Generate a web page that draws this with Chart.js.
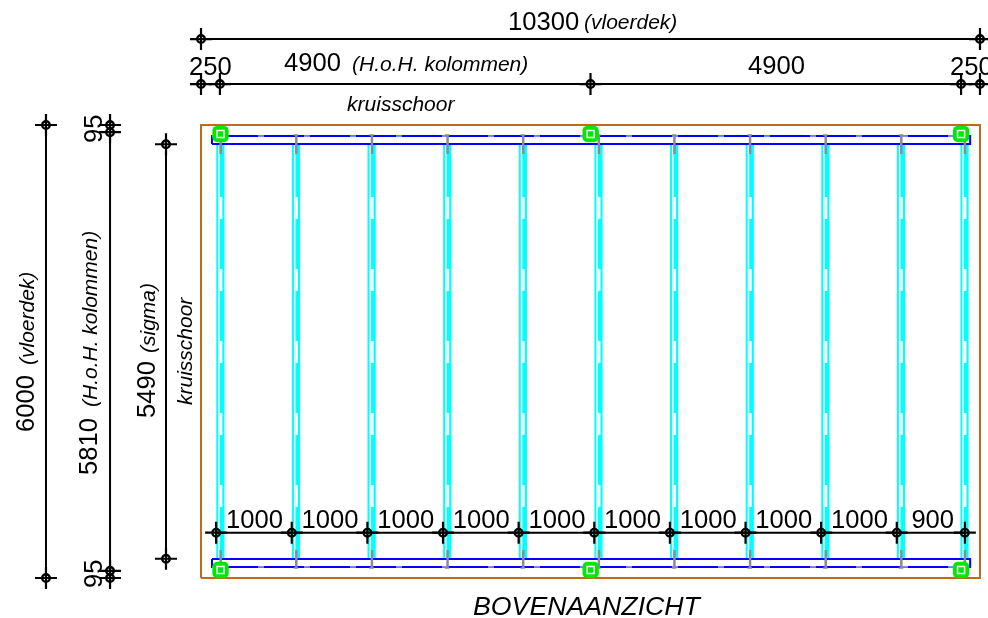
<!DOCTYPE html>
<html>
<head>
<meta charset="utf-8">
<title>Bovenaanzicht</title>
<script src="https://cdn.jsdelivr.net/npm/chart.js@4"></script>
<style>
html, body { margin: 0; padding: 0; background: #fff; }
#wrap { width: 988px; height: 618px; }
</style>
</head>
<body>
<div id="wrap"><canvas id="plan"></canvas></div>
<script>
// all values in mm, as on the drawing
var deckWidth = 10300;
var deckDepth = 6000;
var columnX = [258, 5152, 10050];
var columnY = [106, 5880];
var sigmaX = [200, 1200, 2200, 3200, 4200, 5200, 6200, 7200, 8200, 9200, 10100];
var purlinX = [215, 1215, 2215, 3215, 4215, 5215, 6215, 7215, 8215, 9215, 10055];
var purlinFrom = 252;
var purlinTo = 5748;
var bracingBands = [[252, 146], [5748, 5854]];
var bracingX = [145, 10170];
var spacing = ['1000', '1000', '1000', '1000', '1000', '1000', '1000', '1000', '1000', '900'];

var dimTopY = 7139;
var dimTopX = [0, 10300];
var dimColumnsY = 6543;
var dimColumnsX = [0, 250, 5150, 10050, 10300];
var dimSigmaY = 600;
var dimDeckX = -2050;
var dimDeckY = [0, 6000];
var dimColX = -1203;
var dimColY = [0, 95, 5905, 6000];
var dimPurlinX = -463;
var dimPurlinY = [255, 5745];

var BROWN = '#c06a1e', BLUE = '#0000ff', CYAN = '#00ffff', GREY = '#8c8c8c', GREEN = '#00e800';

function line(points, color, width, dash) {
    return {
        data: points, showLine: true, borderColor: color, borderWidth: width,
        borderDash: dash || [], pointRadius: 0, fill: false, tension: 0, borderCapStyle: 'butt'
    };
}

function pts(xs, y) {
    return xs.map(function(x) { return { x: x, y: y }; });
}

function ptsV(x, ys) {
    return ys.map(function(y) { return { x: x, y: y }; });
}

var datasets = [];

// deck outline
datasets.push(line([
    { x: 0, y: 0 }, { x: deckWidth, y: 0 }, { x: deckWidth, y: deckDepth },
    { x: 0, y: deckDepth }, { x: 0, y: 0 }
], BROWN, 2));

// sigma purlins: two thin flanges and a web band with gaps
purlinX.forEach(function(x) {
    datasets.push(line(ptsV(x, [purlinFrom, purlinTo]), CYAN, 2));
    datasets.push(line(ptsV(x + 85, [purlinFrom, purlinTo]), CYAN, 1.5));
    datasets.push(line(ptsV(x + 60, [purlinFrom, purlinTo]), CYAN, 4));
    datasets.push(line(ptsV(x + 50, [5046, purlinFrom]), '#ffffff', 2.5, [22, 50]));
});

// bracing bands along the short sides
bracingBands.forEach(function(b) {
    datasets.push(line([
        { x: bracingX[0], y: b[0] }, { x: bracingX[1], y: b[0] }, { x: bracingX[1], y: b[1] },
        { x: bracingX[0], y: b[1] }, { x: bracingX[0], y: b[0] }
    ], BLUE, 2));
});
datasets.push(line(pts(bracingX, 5854), '#ffffff', 1, [6, 40]));
datasets.push(line(pts(bracingX, 146), '#ffffff', 1, [6, 40]));

// sigma end pieces with their small foot
purlinX.forEach(function(x) {
    datasets.push(line(ptsV(x + 45, [5868, 5616]), GREY, 2.5));
    datasets.push(line(ptsV(x + 45, [132, 371]), GREY, 2.5));
    datasets.push(line(pts([x + 10, x + 70], 5868), GREY, 1.5));
    datasets.push(line(pts([x + 10, x + 70], 132), GREY, 1.5));
});

// columns
columnY.forEach(function(y) {
    datasets.push({
        data: pts(columnX, y), showLine: false, pointStyle: 'rectRounded', pointRadius: 9.5,
        backgroundColor: GREEN, borderColor: GREEN, borderWidth: 0
    });
    datasets.push({
        data: pts(columnX, y), showLine: false, pointStyle: 'rect', pointRadius: 5,
        backgroundColor: 'rgba(0,0,0,0)', borderColor: '#ffffff', borderWidth: 1.5
    });
});

// dimension lines with their cross + circle ticks
function dimension(points) {
    datasets.push(line(points, '#000000', 2));
    datasets.push({
        data: points, showLine: false, pointStyle: 'cross', pointRadius: 11,
        borderColor: '#000000', borderWidth: 2.2, backgroundColor: '#000000'
    });
    datasets.push({
        data: points, showLine: false, pointStyle: 'circle', pointRadius: 3.8,
        borderColor: '#000000', borderWidth: 2.4, backgroundColor: 'rgba(0,0,0,0)'
    });
}

dimension(pts(dimTopX, dimTopY));
dimension(pts(dimColumnsX, dimColumnsY));
dimension(pts(sigmaX, dimSigmaY));
dimension(ptsV(dimDeckX, dimDeckY));
dimension(ptsV(dimColX, dimColY));
dimension(ptsV(dimPurlinX, dimPurlinY));

// chart.js paints the first dataset last, the list above is back to front
datasets.reverse();

var planLabels = {
    id: 'planLabels',
    afterDatasetsDraw: function(chart) {
        var ctx = chart.ctx;
        var sx = chart.scales.x, sy = chart.scales.y;

        function text(str, x, y, size, italic, vertical) {
            ctx.save();
            ctx.translate(sx.getPixelForValue(x), sy.getPixelForValue(y));
            if (vertical) ctx.rotate(-Math.PI / 2);
            ctx.font = (italic ? 'italic ' : '') + size + 'px "Liberation Sans"';
            ctx.fillStyle = '#000';
            ctx.textAlign = 'left';
            ctx.textBaseline = 'alphabetic';
            ctx.fillText(str, 0, 0);
            ctx.restore();
        }

        // horizontal dimensions
        text('10300', 4060, 7258, 25.6);
        text('(vloerdek)', 5064, 7270, 21, true);
        text('250', -159, 6662, 25.6);
        text('4900', 1097, 6715, 25.6);
        text('(H.o.H. kolommen)', 1997, 6715, 21, true);
        text('4900', 7233, 6675, 25.6);
        text('250', 9905, 6662, 25.6);
        text('kruisschoor', 1931, 6185, 21, true);

        // purlin spacing
        spacing.forEach(function(s, i) {
            text(s, sigmaX[i] + (s === '900' ? 193 : 130), 662, 25.6);
        });

        // vertical dimensions
        text('6000', -2205, 1934, 25.6, false, true);
        text('(vloerdek)', -2205, 2821, 21, true, true);
        text('5810', -1376, 1364, 25.6, false, true);
        text('(H.o.H. kolommen)', -1376, 2265, 21, true, true);
        text('95', -1310, 5762, 25.6, false, true);
        text('95', -1310, -132, 25.6, false, true);
        text('5490', -608, 2119, 25.6, false, true);
        text('(sigma)', -608, 2980, 21, true, true);
        text('kruisschoor', -119, 2291, 21, true, true);

        text('BOVENAANZICHT', 3597, -490, 26.7, true);
    }
};

new Chart(document.getElementById('plan'), {
    type: 'scatter',
    data: { datasets: datasets },
    plugins: [planLabels],
    options: {
        responsive: true,
        maintainAspectRatio: false,
        animation: false,
        clip: false,
        layout: { padding: 0, autoPadding: false },
        plugins: { legend: { display: false }, tooltip: { enabled: false }, title: { display: false } },
        scales: {
            x: { type: 'linear', display: false, min: -2658, max: 10406 },
            y: { type: 'linear', display: false, min: -530, max: 7656 }
        }
    }
});
</script>
</body>
</html>
